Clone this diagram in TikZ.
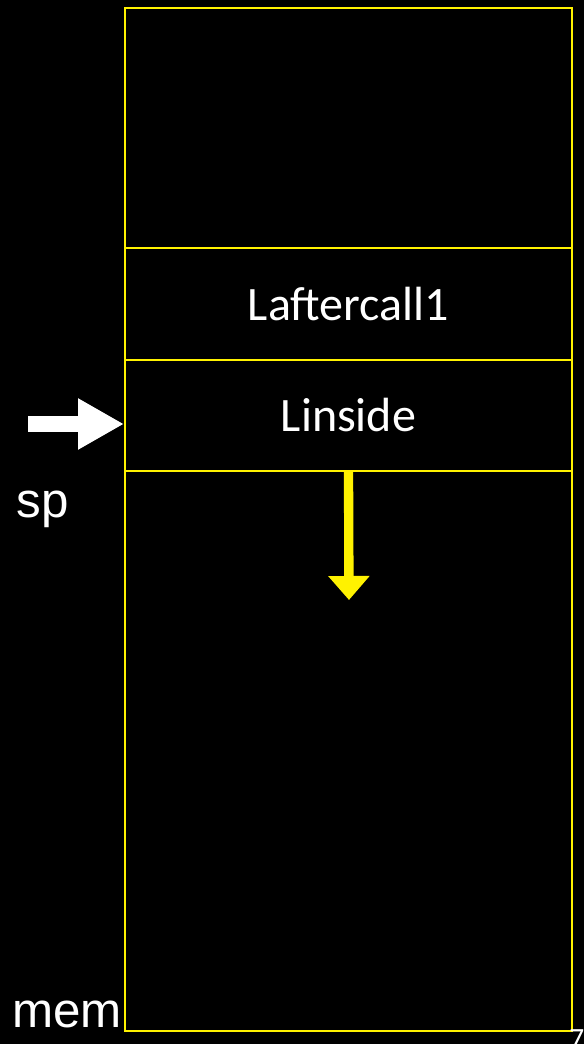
\documentclass[tikz,border=0pt]{standalone}
\usepackage{fontspec}
\setmainfont{Carlito}
\newfontfamily\arialfont{Liberation Sans}
\usetikzlibrary{arrows.meta}

\begin{document}
\begin{tikzpicture}[x=0.75pt,y=-0.75pt,every node/.style={text=white,inner sep=0pt},
  cell/.style={draw=yellow,line width=1.5pt,minimum width=335.25pt,font=\fontsize{36}{43}\selectfont},
  side/.style={anchor=base west,font=\arialfont\fontsize{37}{44}\selectfont}]

% background
\fill[black] (0,0) rectangle (584,1044);
\useasboundingbox (0,0) rectangle (584,1044);

% the stack
\node[cell,minimum height=767.25pt] (mem) at (348.5,519.5) {};
\node[cell,minimum height=84pt] (after) at (348.5,304) {Laftercall1};
\node[cell,minimum height=83.25pt] (inside) at (348.5,415.5) {Linside};

% sp points here
\coordinate (sptail) at (28,424);
\draw[white,line width=12pt,-{Triangle[length=34.5pt,width=36pt]}] (sptail)--(sptail -| inside.west);
\node[side] (sp) at (16.5,517) {sp};
\node[side] (memname) at (12,1027) {mem};

% growth
\coordinate (grow) at (349,600);
\draw[yellow,line width=7pt,-{Triangle[length=18pt,width=30pt]}] (inside.south)--(grow);

\node[anchor=north west,font=\fontsize{22}{26}\selectfont] (pgno) at (569,1029) {7};

\end{tikzpicture}
\end{document}
